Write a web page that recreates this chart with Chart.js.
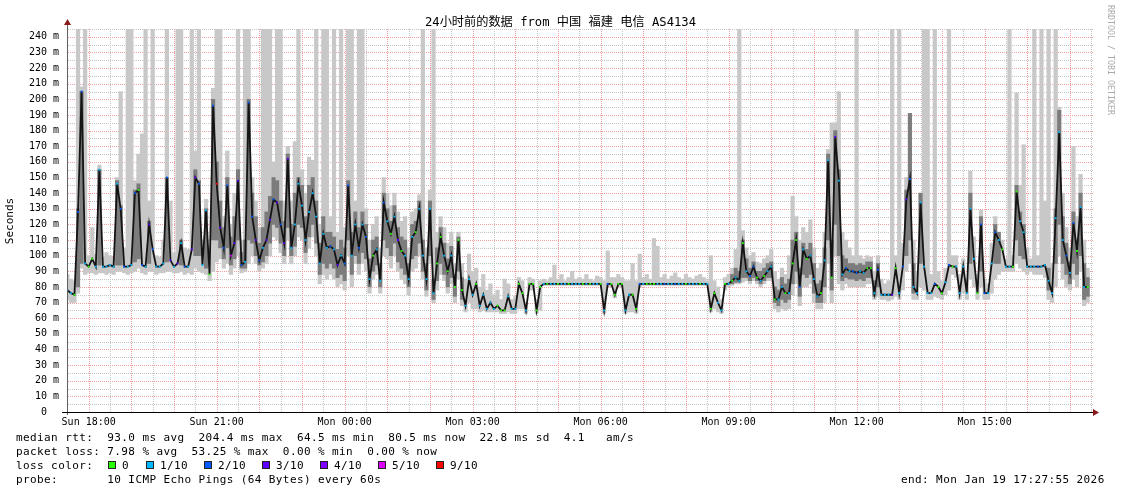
<!DOCTYPE html>
<html>
<head>
<meta charset="utf-8">
<script src="https://cdn.jsdelivr.net/npm/chart.js@4.4.1/dist/chart.umd.min.js"></script>
<style>
html,body{margin:0;padding:0;background:#fff;overflow:hidden}
#wrap{position:relative;width:1121px;height:494px;background:#fff}
#c{position:absolute;left:0;top:0}
.t{position:absolute;font-family:'DejaVu Sans Mono','Noto Sans CJK SC',monospace;color:#000;white-space:pre}
.leg{font-size:11px;letter-spacing:0.4px;line-height:14.2px;left:16px}
.box{position:absolute;width:6px;height:6px;border:1px solid #222}
</style>
</head>
<body>
<div id="wrap">
<canvas id="c" width="1121" height="494"></canvas>
<div class="t" id="title" style="left:0;width:1121px;text-align:center;top:14px;font-size:12.2px;line-height:16px">24小时前的数据 from 中国 福建 电信 AS4134</div>
<div class="t" id="ylab" style="left:0;top:0;width:100px;height:14px;line-height:14px;text-align:center;font-size:11px;color:#000;transform:translate(-40px,214px) rotate(-90deg)">Seconds</div>
<div class="t" id="rrd" style="left:1105px;top:5px;writing-mode:vertical-rl;font-size:8.3px;line-height:12px;color:#aaaaaa">RRDTOOL / TOBI OETIKER</div>
<div class="t leg" style="top:430.5px">median rtt:  93.0 ms avg  204.4 ms max  64.5 ms min  80.5 ms now  22.8 ms sd  4.1   am/s</div>
<div class="t leg" style="top:444.7px">packet loss: 7.98 % avg  53.25 % max  0.00 % min  0.00 % now</div>
<div class="t leg" style="top:458.9px">loss color:</div>
<div id="lossLegend"></div>
<div class="t leg" style="top:473.1px">probe:       10 ICMP Echo Pings (64 Bytes) every 60s</div>
<div class="t leg" style="top:473.1px;left:901px">end: Mon Jan 19 17:27:55 2026</div>
</div>
<script>
// ---- time axis (minutes relative to Sun 18:00) ----
const startMinute = -30;          // first 5-minute bin: Sun 17:30
const stepMinutes = 5;
const axisMin = -30.5, axisMax = 1412.5;
const hourLabels = ['Sun 18:00','Sun 21:00','Mon 00:00','Mon 03:00','Mon 06:00','Mon 09:00','Mon 12:00','Mon 15:00'];
const hourLabelMinutes = [0,180,360,540,720,900,1080,1260];

// ---- median RTT (ms), one value per 5 minutes ----
const medianRtt = [
 78,76,75,128,205,95,93,98,93,155,
 93,93,94,93,146,130,93,93,94,140,
 142,94,93,120,104,93,93,95,150,97,
 93,95,108,93,93,104,150,146,94,129,
 88,196,146,118,105,145,100,108,148,94,
 96,198,125,110,97,105,110,123,136,134,
 120,108,162,105,120,146,132,110,128,140,
 125,95,114,105,106,104,94,100,95,145,
 100,120,105,120,112,85,100,104,84,134,
 122,114,125,110,103,100,85,112,115,130,
 100,85,130,76,95,112,100,90,100,80,
 110,78,68,85,75,82,68,75,66,70,
 66,68,65,65,74,66,66,82,76,65,
 82,82,65,80,82,82,82,82,82,82,
 82,82,82,82,82,82,82,82,82,82,
 82,65,82,82,75,82,82,65,75,75,
 66,82,82,82,82,82,82,82,82,82,
 82,82,82,82,82,82,82,82,82,82,
 82,66,76,70,65,82,82,84,86,84,
 108,90,87,93,86,84,87,90,93,72,
 72,80,76,76,95,110,80,104,98,100,
 85,74,76,97,161,86,176,148,88,92,
 90,90,89,90,89,92,92,76,91,75,
 75,75,75,92,76,93,136,149,80,76,
 134,93,76,76,82,80,76,83,94,93,
 93,76,93,76,130,98,76,120,76,76,
 95,115,110,104,93,93,93,141,122,115,
 93,93,93,93,93,94,84,76,124,179,
 110,100,89,121,103,131,80,80
];
// ---- smoke: lowest and highest ping of each bin (ms) ----
const smokeMin = [
 72,70,70,76,92,88,89,89,88,89,
 89,88,89,88,90,90,89,88,89,90,
 92,89,88,90,90,88,89,89,90,90,
 89,89,90,88,89,88,92,90,89,88,
 84,90,96,98,92,95,88,92,100,89,
 90,95,100,95,90,92,95,100,112,110,
 102,95,110,95,100,112,110,95,105,112,
 100,82,88,85,88,85,80,82,78,100,
 80,95,88,95,90,76,85,88,76,100,
 98,92,100,90,85,82,75,90,92,100,
 85,74,95,70,78,88,84,76,82,70,
 85,68,64,70,66,66,64,65,64,64,
 64,64,63,63,64,63,63,66,66,63,
 78,78,63,65,81,81,81,81,81,81,
 81,81,81,81,81,81,81,81,81,81,
 81,63,80,80,73,80,80,63,64,64,
 63,80,81,81,81,81,81,81,81,81,
 81,81,81,81,81,81,81,81,81,81,
 81,64,66,64,63,78,80,81,82,82,
 83,84,82,84,82,80,82,84,84,66,
 64,66,65,66,75,82,68,80,80,82,
 70,66,66,70,95,70,100,82,78,82,
 80,80,80,80,80,82,82,72,74,72,
 72,71,72,74,72,78,90,95,72,72,
 80,78,72,72,74,73,72,75,78,88,
 86,72,76,72,85,80,72,80,72,72,
 76,85,88,90,90,90,90,95,92,90,
 88,90,88,88,88,86,72,70,80,100,
 85,80,78,85,80,90,68,70
];
const smokeMax = [
 88,85,84,245,208,245,100,118,101,158,
 99,102,100,99,150,205,105,245,245,148,
 165,178,245,135,245,100,99,110,245,135,
 102,245,245,105,104,245,167,245,110,136,
 102,207,245,245,125,167,120,140,245,110,
 245,245,150,135,118,245,245,245,160,245,
 245,135,170,135,173,245,155,140,163,161,
 245,120,245,245,125,245,115,245,118,245,
 245,135,245,245,130,110,120,125,105,150,
 140,132,140,128,122,125,105,128,130,139,
 245,105,142,245,115,125,118,108,115,95,
 115,95,85,101,90,92,80,88,78,82,
 75,78,72,85,82,72,74,86,84,70,
 86,85,72,84,85,84,86,94,85,88,
 84,86,90,85,86,85,88,85,84,87,
 86,84,103,86,86,88,86,84,84,95,
 84,101,86,88,85,111,106,86,88,85,
 87,89,86,85,88,86,85,87,88,86,
 84,100,84,80,72,86,88,92,104,245,
 116,105,100,102,96,95,98,100,104,90,
 85,92,88,100,138,125,110,118,115,123,
 105,92,95,115,168,185,185,205,115,110,
 105,100,245,100,98,100,99,90,100,85,
 82,84,245,100,245,108,150,191,110,90,
 140,245,245,88,245,90,84,92,245,100,
 100,88,98,85,154,112,88,129,85,82,
 108,125,115,110,98,245,100,204,145,171,
 105,98,245,100,245,135,245,95,245,195,
 140,118,105,170,125,152,110,92
];
// ---- denser (darker) smoke: bin index, low and high (ms) ----
const midSmokeBin = [3,4,9,14,15,19,20,23,28,32,36,37,39,
 41,42,43,44,45,46,47,48,49,50,51,52,53,54,55,56,57,58,59,60,
 61,62,63,64,65,66,67,68,69,70,71,72,73,74,75,76,77,78,79,80,
 81,82,83,84,85,86,87,88,89,90,91,92,93,94,95,96,97,98,99,100,
 101,102,103,104,105,106,107,108,109,110,111,
 187,188,189,190,191,192,193,194,195,196,197,198,199,200,
 201,202,203,204,205,206,207,208,209,210,211,212,213,214,215,216,217,218,219,220,
 221,222,223,224,225,226,227,228,
 236,237,238,240,254,257,261,262,267,268,269,276,278,279,280,281,282,283,284,285,286,287];
const midSmokeLo = [80,95,94,94,94,96,98,95,96,94,100,100,92,
 110,110,105,98,105,94,98,110,92,92,110,108,100,94,96,100,108,120,118,108,
 100,118,100,106,120,118,102,112,120,108,88,95,92,95,92,86,88,84,110,88,
 100,95,102,98,80,90,94,80,110,105,100,108,96,92,88,80,98,100,108,90,
 78,100,72,84,95,88,80,86,74,90,72,
 82,83,83,86,86,84,86,84,82,84,86,86,70,68,
 72,70,72,82,90,74,88,86,88,76,70,70,80,110,78,120,100,84,86,85,
 85,84,85,84,86,86,74,80,
 100,110,76,95,95,90,95,95,110,100,98,78,95,120,95,88,82,95,88,100,72,74];
const midSmokeHi = [130,205,155,148,132,142,146,122,150,110,155,148,130,
 200,160,135,118,150,112,125,155,102,110,200,140,125,108,118,128,138,150,148,135,
 122,165,120,140,150,145,125,145,150,135,108,125,115,115,112,104,110,105,148,115,
 128,118,128,120,98,110,112,95,140,130,122,132,118,112,110,95,120,122,135,110,
 95,135,85,105,118,108,98,106,88,112,86,
 88,92,90,110,98,92,96,90,90,92,95,96,80,78,
 86,82,85,110,115,92,108,104,108,95,82,84,105,165,110,180,155,100,98,95,
 95,94,95,94,96,96,84,95,
 142,191,95,140,140,125,120,115,145,128,120,92,130,193,125,108,96,128,110,140,95,86];
// ---- packet loss per bin (lost pings out of 10) ----
const lossTenths = [
 1,1,0,2,2,1,0,0,1,1,
 1,1,1,1,1,2,2,1,1,2,
 0,2,1,3,2,1,1,1,2,3,
 1,3,1,2,1,3,3,2,1,1,
 0,2,9,3,2,2,5,3,3,2,
 1,2,2,3,2,1,3,3,2,3,
 2,3,3,1,1,1,1,1,1,1,
 1,1,1,1,2,1,3,1,2,2,
 1,1,2,1,2,1,0,1,1,2,
 1,0,1,3,0,1,1,1,0,1,
 1,1,1,1,0,0,1,0,1,0,
 0,0,1,1,1,0,1,1,1,1,
 1,0,0,0,1,1,1,0,0,1,
 0,0,0,0,1,0,1,1,0,1,
 1,0,1,1,1,0,1,0,1,1,
 0,1,2,0,0,0,0,1,1,0,
 0,2,1,0,0,0,1,1,2,1,
 1,2,1,1,0,1,1,1,0,1,
 1,0,0,1,1,0,1,0,1,1,
 0,1,2,2,0,1,0,1,1,0,
 1,1,0,1,0,0,2,1,0,1,
 1,1,0,1,1,0,3,1,1,2,
 1,2,2,1,1,0,0,1,2,1,
 1,1,3,0,1,2,3,2,1,1,
 1,1,1,1,2,0,0,1,2,0,
 1,1,1,1,1,1,0,2,2,1,
 1,2,1,0,1,1,0,0,1,1,
 1,1,1,2,1,1,1,1,1,1,
 1,2,1,2,0,1,1,0
];
const lossLevels = [0,1,2,3,4,5,9];
const lossNames  = ['0','1/10','2/10','3/10','4/10','5/10','9/10'];
const lossColors = ['#26ff00','#00b8ff','#0059ff','#5e00ff','#7e00ff','#dd00ff','#ff0000'];
const lossLegendX = [108,146,204,262,320,378,436];

// ---- loss colour legend (text as DOM) ----
const lg = document.getElementById('lossLegend');
lossNames.forEach((name, k) => {
  const b = document.createElement('div');
  b.className = 'box';
  b.style.left = lossLegendX[k] + 'px';
  b.style.top = '461px';
  b.style.background = lossColors[k];
  lg.appendChild(b);
  const s = document.createElement('div');
  s.className = 't leg';
  s.style.left = (lossLegendX[k] + 14) + 'px';
  s.style.top = '458.9px';
  s.textContent = name;
  lg.appendChild(s);
});

const MAJOR = '#f5a0a0';
const MINOR = '#c4c4c4';
const binTime = i => startMinute + i * stepMinutes;

const smokeData = medianRtt.map((_, i) => ({x: binTime(i), y: [smokeMin[i], smokeMax[i]]}));
const midSmokeData = midSmokeBin.map((b, k) => ({x: binTime(b), y: [midSmokeLo[k], midSmokeHi[k]]}));
const medianData = medianRtt.map((v, i) => ({x: binTime(i), y: v}));
const pointColors = lossTenths.map(l => lossColors[lossLevels.indexOf(l)]);

const xTickValues = [];
for (let m = -30; m <= 1410; m += 30) xTickValues.push(m);
const yTickValues = [];
for (let v = 0; v <= 245; v += 5) yTickValues.push(v);

// dotted RRDtool-style grid drawn through the chart's own scales
const gridPlugin = {
  id: 'rrdGrid',
  beforeDatasetsDraw(chart) {
    const {ctx, chartArea: a, scales: {x, y}} = chart;
    ctx.save();
    ctx.lineWidth = 1;
    ctx.setLineDash([1, 1]);
    const pass = (major) => {
      ctx.strokeStyle = major ? MAJOR : MINOR;
      ctx.beginPath();
      yTickValues.forEach(v => {
        if ((v % 10 === 0) !== major || v === 0) return;
        const py = Math.round(y.getPixelForValue(v)) + 0.5;
        ctx.moveTo(a.left + 1, py); ctx.lineTo(a.right, py);
      });
      xTickValues.forEach(v => {
        if ((v % 60 === 0) !== major) return;
        const px = Math.round(x.getPixelForValue(v)) + 0.5;
        if (px <= a.left + 1) return;
        ctx.moveTo(px, a.bottom); ctx.lineTo(px, a.top);
      });
      ctx.stroke();
    };
    pass(false);
    pass(true);
    ctx.restore();
  }
};

const axesPlugin = {
  id: 'rrdAxes',
  afterDraw(chart) {
    const {ctx, chartArea: a} = chart;
    ctx.save();
    ctx.strokeStyle = '#606060'; ctx.lineWidth = 1;
    ctx.beginPath(); ctx.moveTo(a.left + 0.5, a.bottom + 3); ctx.lineTo(a.left + 0.5, a.top - 6); ctx.stroke();
    ctx.strokeStyle = '#000';
    ctx.beginPath(); ctx.moveTo(a.left - 5, a.bottom + 0.5); ctx.lineTo(a.right + 1, a.bottom + 0.5); ctx.stroke();
    ctx.fillStyle = '#8b1a1a';
    ctx.beginPath(); ctx.moveTo(a.left + 0.5, a.top - 10); ctx.lineTo(a.left - 3, a.top - 4); ctx.lineTo(a.left + 4, a.top - 4); ctx.closePath(); ctx.fill();
    ctx.beginPath(); ctx.moveTo(a.right + 6, a.bottom + 0.5); ctx.lineTo(a.right, a.bottom - 3); ctx.lineTo(a.right, a.bottom + 4); ctx.closePath(); ctx.fill();
    ctx.restore();
  }
};

new Chart(document.getElementById('c'), {
  type: 'bar',
  data: {
    datasets: [
      {
        type: 'line', data: medianData, order: 1,
        borderColor: '#141414', borderWidth: 1.8, tension: 0,
        pointStyle: 'rect', pointRadius: 1.3, pointBorderWidth: 0,
        pointBackgroundColor: pointColors, pointHoverRadius: 1.3
      },
      {
        type: 'bar', data: midSmokeData, order: 2,
        backgroundColor: '#7c7c7c', borderWidth: 0,
        barThickness: 3.4
      },
      {
        type: 'bar', data: smokeData, order: 3,
        backgroundColor: '#c8c8c8', borderWidth: 0,
        barPercentage: 1, categoryPercentage: 1
      }
    ]
  },
  options: {
    responsive: false, animation: false, devicePixelRatio: 1,
    layout: {padding: {left: 0, right: 28, top: 29, bottom: 0}},
    plugins: {legend: {display: false}, tooltip: {enabled: false}, title: {display: false}},
    datasets: {bar: {grouped: false}},
    scales: {
      x: {
        type: 'linear', min: axisMin, max: axisMax, offset: false,
        afterFit: s => { s.height = 82; },
        afterBuildTicks: s => { s.ticks = xTickValues.map(v => ({value: v})); },
        grid: {display: false, offset: false, drawTicks: false},
        border: {display: false},
        ticks: {
          autoSkip: false, maxRotation: 0, minRotation: 0, padding: 4, color: '#000',
          font: {family: 'DejaVu Sans Mono', size: 10},
          callback: v => { const k = hourLabelMinutes.indexOf(v); return k >= 0 ? hourLabels[k] : ''; }
        }
      },
      y: {
        type: 'linear', min: 0, max: 245,
        afterFit: s => { s.width = 67; },
        afterBuildTicks: s => { s.ticks = yTickValues.map(v => ({value: v})); },
        grid: {display: false, drawTicks: false},
        border: {display: false},
        ticks: {
          autoSkip: false, padding: 8, color: '#000',
          font: {family: 'DejaVu Sans Mono', size: 10},
          callback: v => (v % 10 !== 0) ? '' : (v === 0 ? '0  ' : v + ' m')
        }
      }
    }
  },
  plugins: [gridPlugin, axesPlugin]
});
</script>
</body>
</html>
